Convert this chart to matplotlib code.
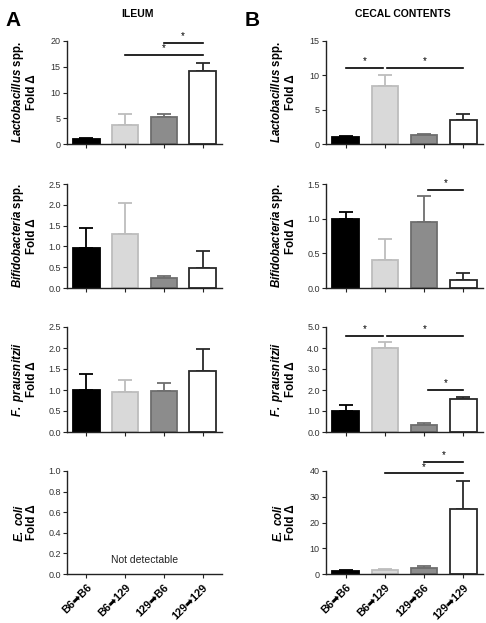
import matplotlib
matplotlib.use("Agg")
import matplotlib.pyplot as plt
import numpy as np

plt.rcParams['font.family'] = ['Liberation Sans', 'DejaVu Sans']
plt.rcParams['mathtext.fontset'] = 'custom'
plt.rcParams['mathtext.rm'] = 'Liberation Sans:bold'
plt.rcParams['mathtext.it'] = 'Liberation Sans:italic:bold'
plt.rcParams['mathtext.bf'] = 'Liberation Sans:bold'
plt.rcParams['mathtext.bfit'] = 'Liberation Sans:italic:bold'

groups = ["B6\u27a1B6", "B6\u27a1129", "129\u27a1B6", "129\u27a1129"]

# Ileum (panel A)
ileum_lacto = [1.0, 3.6, 5.2, 14.2]
ileum_lacto_err = [0.2, 2.2, 0.6, 1.6]
ileum_bifido = [0.97, 1.29, 0.24, 0.49]
ileum_bifido_err = [0.47, 0.75, 0.05, 0.41]
ileum_fprau = [1.0, 0.96, 0.98, 1.45]
ileum_fprau_err = [0.37, 0.29, 0.19, 0.52]

# Cecal contents (panel B)
cecal_lacto = [1.0, 8.5, 1.3, 3.5]
cecal_lacto_err = [0.2, 1.5, 0.2, 0.9]
cecal_bifido = [1.0, 0.40, 0.95, 0.12]
cecal_bifido_err = [0.10, 0.30, 0.37, 0.10]
cecal_fprau = [1.02, 3.98, 0.34, 1.58]
cecal_fprau_err = [0.27, 0.29, 0.09, 0.08]
cecal_ecoli = [1.0, 1.5, 2.4, 25.3]
cecal_ecoli_err = [0.5, 0.5, 0.8, 10.8]

ylabels = [r"$\mathbfit{Lactobacillus}$ spp.", r"$\mathbfit{Bifidobacteria}$ spp.",
           r"$\mathbfit{F.\ prausnitzii}$", r"$\mathbfit{E.\ coli}$"]

fill = ['#000000', '#d9d9d9', '#8c8c8c', '#ffffff']
edge = ['#000000', '#bdbdbd', '#6e6e6e', '#2a2a2a']

W, H = 486, 623
fig = plt.figure(figsize=(4.86, 6.23), dpi=100)

def ax_at(left, top, right, bottom):
    return fig.add_axes([left / W, 1 - bottom / H, (right - left) / W, (bottom - top) / H])

rows = [(41, 144), (184, 288), (327, 432), (471, 574)]
colA = (67, 222)
colB = (326, 483)

x = np.arange(4)

def style(ax, ylim, ticks, ticklabels, ylabel, show_x=False):
    ax.set_xlim(-0.5, 3.5)
    ax.set_ylim(*ylim)
    ax.set_yticks(ticks)
    ax.set_yticklabels(ticklabels, fontsize=6.5, color='#333333')
    ax.set_xticks(x)
    for s in ['top', 'right']:
        ax.spines[s].set_visible(False)
    for s in ['left', 'bottom']:
        ax.spines[s].set_linewidth(1.0)
        ax.spines[s].set_color('#222222')
    ax.tick_params(axis='both', length=3, width=0.8, color='#222222', pad=1.5)
    if show_x:
        ax.set_xticklabels(groups, rotation=45, ha='right', rotation_mode='anchor',
                           fontsize=7.8, fontweight='bold')
        ax.tick_params(axis='x', pad=3)
    else:
        ax.set_xticklabels([])
    ax.set_ylabel(ylabel + "\nFold \u0394", fontsize=8.3, fontweight='bold', labelpad=4,
                  linespacing=1.05)

def bars(ax, vals, errs):
    for i in range(4):
        ax.bar(x[i], vals[i], width=0.68, color=fill[i], edgecolor=edge[i], linewidth=1.3, zorder=2)
        ax.errorbar(x[i], vals[i], yerr=[[0], [errs[i]]], fmt='none', ecolor=edge[i],
                    elinewidth=1.3, capsize=5, capthick=1.3, zorder=1)

def sig(ax, x0, x1, y, dy):
    ax.plot([x0, x1], [y, y], color='black', lw=1.2, clip_on=False)
    ax.text((x0 + x1) / 2, y + dy, '*', ha='center', va='center', fontsize=7, clip_on=False)

# Panel A
a1 = ax_at(colA[0], rows[0][0], colA[1], rows[0][1])
bars(a1, ileum_lacto, ileum_lacto_err)
style(a1, (0, 20), [0, 5, 10, 15, 20], ['0', '5', '10', '15', '20'], ylabels[0])
sig(a1, 1, 3, 17.3, 1.3)
sig(a1, 2, 3, 19.7, 1.3)

a2 = ax_at(colA[0], rows[1][0], colA[1], rows[1][1])
bars(a2, ileum_bifido, ileum_bifido_err)
style(a2, (0, 2.5), [0, 0.5, 1.0, 1.5, 2.0, 2.5], ['0.0', '0.5', '1.0', '1.5', '2.0', '2.5'], ylabels[1])

a3 = ax_at(colA[0], rows[2][0], colA[1], rows[2][1])
bars(a3, ileum_fprau, ileum_fprau_err)
style(a3, (0, 2.5), [0, 0.5, 1.0, 1.5, 2.0, 2.5], ['0.0', '0.5', '1.0', '1.5', '2.0', '2.5'], ylabels[2])

a4 = ax_at(colA[0], rows[3][0], colA[1], rows[3][1])
style(a4, (0, 1.0), [0, 0.2, 0.4, 0.6, 0.8, 1.0], ['0.0', '0.2', '0.4', '0.6', '0.8', '1.0'], ylabels[3], show_x=True)
a4.text(1.5, 0.14, 'Not detectable', ha='center', va='center', fontsize=7.5, color='#222222')

# Panel B
b1 = ax_at(colB[0], rows[0][0], colB[1], rows[0][1])
bars(b1, cecal_lacto, cecal_lacto_err)
style(b1, (0, 15), [0, 5, 10, 15], ['0', '5', '10', '15'], ylabels[0])
sig(b1, 0, 0.95, 11.1, 1.0)
sig(b1, 1.05, 3, 11.1, 1.0)

b2 = ax_at(colB[0], rows[1][0], colB[1], rows[1][1])
bars(b2, cecal_bifido, cecal_bifido_err)
style(b2, (0, 1.5), [0, 0.5, 1.0, 1.5], ['0.0', '0.5', '1.0', '1.5'], ylabels[1])
sig(b2, 2.1, 3, 1.41, 0.1)

b3 = ax_at(colB[0], rows[2][0], colB[1], rows[2][1])
bars(b3, cecal_fprau, cecal_fprau_err)
style(b3, (0, 5), [0, 1, 2, 3, 4, 5], ['0.0', '1.0', '2.0', '3.0', '4.0', '5.0'], ylabels[2])
sig(b3, 0, 0.95, 4.58, 0.32)
sig(b3, 1.05, 3, 4.58, 0.32)
sig(b3, 2.1, 3, 2.0, 0.32)

b4 = ax_at(colB[0], rows[3][0], colB[1], rows[3][1])
bars(b4, cecal_ecoli, cecal_ecoli_err)
style(b4, (0, 40), [0, 10, 20, 30, 40], ['0', '10', '20', '30', '40'], ylabels[3], show_x=True)
sig(b4, 1, 3, 39.2, 2.5)
sig(b4, 2, 3, 43.5, 2.5)

# Align y labels
for ax in [a1, a2, a3, a4]:
    ax.yaxis.set_label_coords(-29 / 155, 0.5)
for ax in [b1, b2, b3, b4]:
    ax.yaxis.set_label_coords(-29 / 157, 0.5)

fig.text(5 / W, 1 - 20 / H, 'A', fontsize=15, fontweight='bold', ha='left', va='center')
fig.text(245 / W, 1 - 20 / H, 'B', fontsize=15, fontweight='bold', ha='left', va='center')
fig.text(137 / W, 1 - 14 / H, 'ILEUM', fontsize=7.5, fontweight='bold', ha='center', va='center')
fig.text(403 / W, 1 - 14 / H, 'CECAL CONTENTS', fontsize=7.5, fontweight='bold', ha='center', va='center')

fig.savefig('out.png', dpi=100)
